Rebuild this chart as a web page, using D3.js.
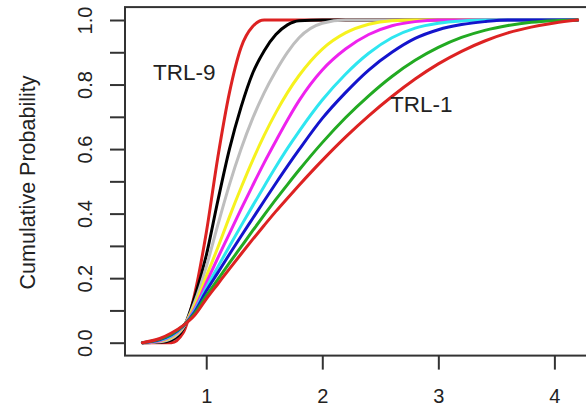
<!DOCTYPE html>
<html>
<head>
<meta charset="utf-8">
<script src="https://cdn.jsdelivr.net/npm/d3@7"></script>
<style>
  html, body { margin: 0; padding: 0; background: #fff; overflow: hidden; }
  svg { display: block; font-family: "Liberation Sans", Arial, Helvetica, sans-serif; }
</style>
</head>
<body>
<svg id="chart" width="586" height="408"></svg>
<script>
const xs = [0.45, 0.6, 0.7, 0.8, 0.9, 1.0, 1.1, 1.2, 1.3, 1.4, 1.5, 1.6, 1.7, 1.8,
            2.0, 2.2, 2.4, 2.6, 2.8, 3.0, 3.2, 3.4, 3.6, 3.8, 4.0, 4.2];

// cumulative probability per TRL level
const trl9 = [0, 0, 0, 0.03, 0.15, 0.34, 0.575, 0.775, 0.915, 0.98, 1, 1, 1, 1,
              1, 1, 1, 1, 1, 1, 1, 1, 1, 1, 1, 1];
const trl8 = [0, 0.001, 0.008, 0.042, 0.14, 0.27, 0.44, 0.6, 0.73, 0.835, 0.905, 0.955, 0.985, 0.998,
              1, 1, 1, 1, 1, 1, 1, 1, 1, 1, 1, 1];
const trl7 = [0, 0.003, 0.013, 0.046, 0.125, 0.235, 0.365, 0.49, 0.6, 0.695, 0.775, 0.842, 0.9, 0.945,
              0.99, 1, 1, 1, 1, 1, 1, 1, 1, 1, 1, 1];
const trl6 = [0, 0.005, 0.017, 0.048, 0.115, 0.205, 0.295, 0.39, 0.48, 0.565, 0.643, 0.713, 0.775, 0.828,
              0.91, 0.96, 0.987, 0.998, 1, 1, 1, 1, 1, 1, 1, 1];
const trl5 = [0, 0.006, 0.02, 0.049, 0.105, 0.185, 0.263, 0.338, 0.414, 0.487, 0.558, 0.625, 0.69, 0.75,
              0.845, 0.91, 0.955, 0.982, 0.995, 1, 1, 1, 1, 1, 1, 1];
const trl4 = [0, 0.008, 0.022, 0.05, 0.1, 0.17, 0.235, 0.299, 0.362, 0.424, 0.485, 0.545, 0.602, 0.655,
              0.752, 0.832, 0.897, 0.945, 0.975, 0.99, 0.997, 1, 1, 1, 1, 1];
const trl3 = [0, 0.01, 0.025, 0.051, 0.095, 0.16, 0.217, 0.274, 0.33, 0.385, 0.44, 0.494, 0.547, 0.598,
              0.695, 0.775, 0.845, 0.9, 0.943, 0.97, 0.986, 0.995, 1, 1, 1, 1];
const trl2 = [0, 0.011, 0.027, 0.052, 0.09, 0.145, 0.196, 0.247, 0.297, 0.347, 0.396, 0.444, 0.49, 0.535,
              0.62, 0.697, 0.765, 0.825, 0.875, 0.915, 0.946, 0.968, 0.983, 0.993, 0.998, 1];
const trl1 = [0, 0.013, 0.03, 0.053, 0.085, 0.135, 0.182, 0.229, 0.275, 0.32, 0.364, 0.407, 0.448, 0.488,
              0.565, 0.637, 0.703, 0.763, 0.817, 0.864, 0.903, 0.935, 0.96, 0.978, 0.991, 1];

// tick values
const xTicks = [1, 2, 3, 4];
const yTicks = [0, 0.1, 0.2, 0.3, 0.4, 0.5, 0.6, 0.7, 0.8, 0.9, 1.0];
const yLabelled = [0, 0.2, 0.4, 0.6, 0.8, 1.0];

// drawn first to last, like the old R palette order
const seriesNames = ["TRL-9", "TRL-8", "TRL-7", "TRL-6", "TRL-5", "TRL-4", "TRL-3", "TRL-2", "TRL-1"];
const seriesValues = [trl9, trl8, trl7, trl6, trl5, trl4, trl3, trl2, trl1];
const colors = ["#dd2222", "#000000", "#bebebe", "#f6f21e", "#ee22ee", "#2ee6f0", "#1414cc", "#22aa22", "#dd2222"];

const svg = d3.select("#chart");

const x = d3.scaleLinear().domain([0.3, 4.35]).range([125, 595]);
const y = d3.scaleLinear().domain([-0.04, 1.04]).range([355.6, 7.1]);

const axisColor = "#333";

// curves
const line = d3.line()
  .x((d) => x(d[0]))
  .y((d) => y(d[1]))
  .curve(d3.curveMonotoneX);

seriesValues.forEach((vals, i) => {
  svg.append("path")
    .attr("class", "curve " + seriesNames[i])
    .datum(xs.map((v, j) => [v, vals[j]]))
    .attr("fill", "none")
    .attr("stroke", colors[i])
    .attr("stroke-width", 3)
    .attr("stroke-linejoin", "round")
    .attr("stroke-linecap", "round")
    .attr("d", line);
});

// plot box
svg.append("rect")
  .attr("x", x.range()[0])
  .attr("y", y.range()[1])
  .attr("width", x.range()[1] - x.range()[0])
  .attr("height", y.range()[0] - y.range()[1])
  .attr("fill", "none")
  .attr("stroke", axisColor)
  .attr("stroke-width", 2);

// y axis
const yAxis = svg.append("g")
  .attr("transform", `translate(${x.range()[0]},0)`)
  .call(d3.axisLeft(y).tickValues(yTicks).tickSize(15)
    .tickFormat((d) => (yLabelled.some((v) => Math.abs(v - d) < 1e-9) ? d3.format(".1f")(d) : "")));
yAxis.select(".domain").remove();
yAxis.selectAll(".tick line").attr("stroke", axisColor).attr("stroke-width", 2);
yAxis.selectAll(".tick text")
  .attr("x", null).attr("dy", null)
  .attr("text-anchor", "middle")
  .attr("transform", "translate(-33,0) rotate(-90)")
  .attr("fill", "#222")
  .style("font-size", "20px");

// x axis
const xAxis = svg.append("g")
  .attr("transform", `translate(0,${y.range()[0]})`)
  .call(d3.axisBottom(x).tickValues(xTicks).tickSize(14).tickPadding(19).tickFormat(d3.format("d")));
xAxis.select(".domain").remove();
xAxis.selectAll(".tick line").attr("stroke", axisColor).attr("stroke-width", 2);
xAxis.selectAll(".tick text").attr("fill", "#222").style("font-size", "20px");

// axis title
svg.append("text")
  .attr("transform", "translate(35,182.5) rotate(-90)")
  .attr("text-anchor", "middle")
  .attr("fill", "#222")
  .style("font-size", "21.5px")
  .text("Cumulative Probability");

// curve labels
svg.append("text")
  .attr("x", 153).attr("y", 80)
  .attr("fill", "#222")
  .style("font-size", "22.5px")
  .text("TRL-9");

svg.append("text")
  .attr("x", 390).attr("y", 111.5)
  .attr("fill", "#222")
  .style("font-size", "22.5px")
  .text("TRL-1");
</script>
</body>
</html>
